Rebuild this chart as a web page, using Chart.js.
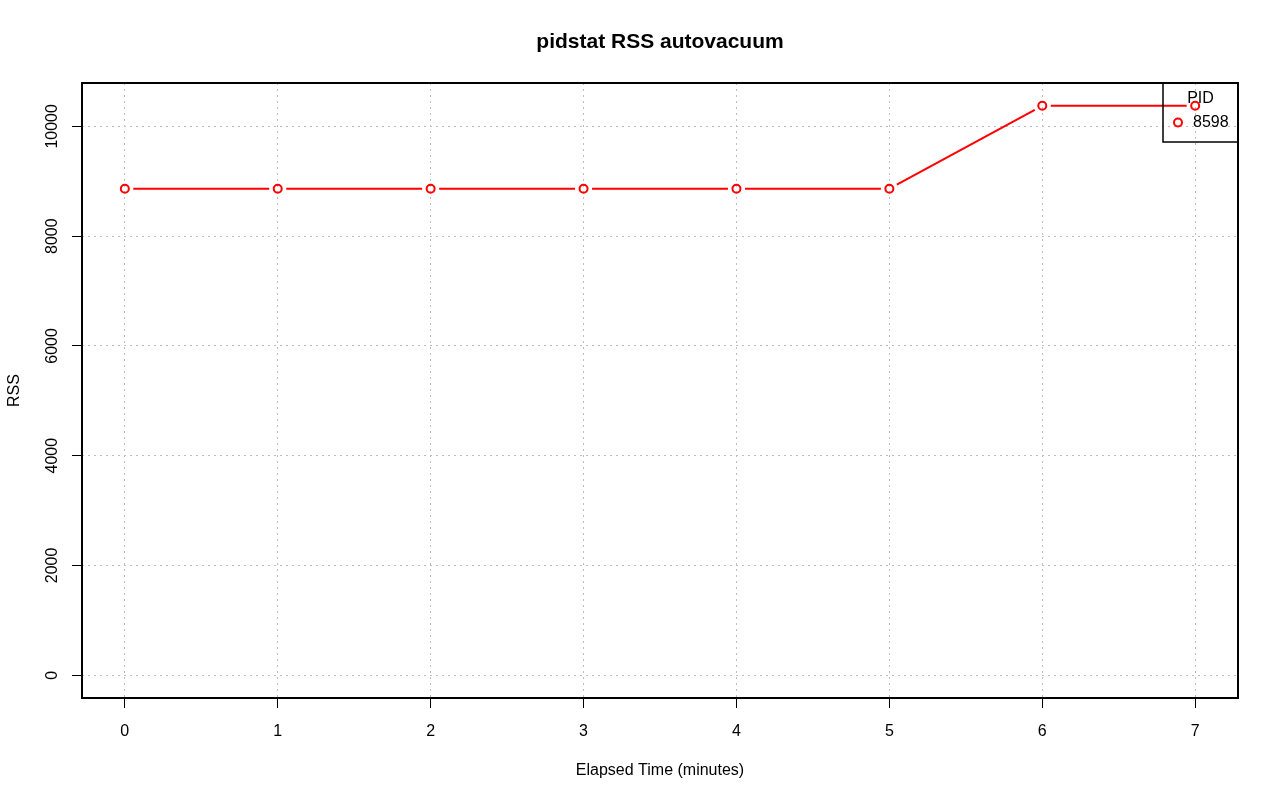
<!DOCTYPE html>
<html>
<head>
<meta charset="utf-8">
<title>pidstat RSS autovacuum</title>
<script src="https://cdn.jsdelivr.net/npm/chart.js@4/dist/chart.umd.min.js"></script>
<style>
  html, body { margin: 0; padding: 0; background: #fff; }
  #wrap { width: 1280px; height: 801px; }
</style>
</head>
<body>
<div id="wrap"><canvas id="grafico" width="1280" height="801"></canvas></div>
<script>
// --- DADOS ---
const minutos = [0, 1, 2, 3, 4, 5, 6, 7];
const rss = [8863, 8863, 8863, 8863, 8863, 8863, 10375, 10375];
const ticksX = [0, 1, 2, 3, 4, 5, 6, 7];
const ticksY = [0, 2000, 4000, 6000, 8000, 10000];
const titulo = 'pidstat RSS autovacuum';
const legendaTitulo = 'PID';
const legendaPid = '8598';

const VERMELHO = '#ff0000';
const GAP = 8.5; // espaço entre linha e ponto (type = "b" do R)
const FONTE = '"Liberation Sans", Arial, Helvetica, sans-serif';

Chart.defaults.font.family = FONTE;
Chart.defaults.color = '#000';

// título, caixa, rótulos do eixo y (girados) e legenda
const extrasPlugin = {
    id: 'extras',
    afterDraw(chart) {
        const ctx = chart.ctx;
        const area = chart.chartArea;
        const y = chart.scales.y;

        ctx.save();
        // título centrado sobre a área do gráfico
        ctx.fillStyle = '#000';
        ctx.font = 'bold 21px ' + FONTE;
        ctx.textAlign = 'center';
        ctx.textBaseline = 'middle';
        ctx.fillText(titulo, (area.left + area.right) / 2, 42);

        ctx.strokeStyle = '#000';
        ctx.lineWidth = 2;
        ctx.strokeRect(area.left, area.top, area.right - area.left, area.bottom - area.top);

        // rótulos do eixo y, de baixo para cima como no R
        ctx.font = '16px ' + FONTE;
        ticksY.forEach(v => {
            ctx.save();
            ctx.translate(53, y.getPixelForValue(v));
            ctx.rotate(-Math.PI / 2);
            ctx.fillText(String(v), 0, 0);
            ctx.restore();
        });

        // legenda
        const lx = 1163, ly = area.top, lw = area.right - 1163, lh = 59;
        ctx.lineWidth = 1.5;
        ctx.strokeRect(lx, ly, lw, lh);
        ctx.textAlign = 'center';
        ctx.fillText(legendaTitulo, lx + lw / 2, ly + 15.5);
        ctx.strokeStyle = VERMELHO;
        ctx.lineWidth = 2;
        ctx.beginPath();
        ctx.arc(1178, ly + 39.5, 4, 0, Math.PI * 2);
        ctx.stroke();
        ctx.textAlign = 'left';
        ctx.fillText(legendaPid, 1193, ly + 40);
        ctx.restore();
    }
};

const gradeComum = {
    color: '#bdbdbd',
    lineWidth: 1,
    drawTicks: true,
    tickLength: 10,
    tickColor: '#000',
    tickWidth: 1,
    tickBorderDash: []
};

new Chart(document.getElementById('grafico'), {
    type: 'line',
    data: {
        datasets: [{
            label: legendaPid,
            data: minutos.map((m, i) => ({ x: m, y: rss[i] })),
            borderColor: VERMELHO,
            borderWidth: 2,
            tension: 0,
            fill: false,
            pointRadius: 4,
            pointBorderWidth: 2,
            pointBorderColor: VERMELHO,
            pointBackgroundColor: 'rgba(0,0,0,0)',
            segment: {
                borderDash: c => {
                    const len = Math.hypot(c.p1.x - c.p0.x, c.p1.y - c.p0.y);
                    return [0, GAP, Math.max(len - 2 * GAP, 0), GAP];
                }
            }
        }]
    },
    options: {
        responsive: false,
        animation: false,
        devicePixelRatio: 1,
        layout: { padding: { left: 0, right: 42, top: 83, bottom: 0 } },
        plugins: {
            legend: { display: false },
            tooltip: { enabled: false },
            title: { display: false }
        },
        scales: {
            x: {
                type: 'linear',
                min: -0.28,
                max: 7.28,
                grid: gradeComum,
                border: { display: false, dash: [2, 4] },
                ticks: {
                    padding: 14,
                    font: { size: 16 },
                    maxRotation: 0
                },
                afterBuildTicks: s => { s.ticks = ticksX.map(v => ({ value: v })); },
                title: {
                    display: true,
                    text: 'Elapsed Time (minutes)',
                    font: { size: 16 },
                    padding: { top: 0, bottom: 21 }
                },
                afterFit: s => { s.height = 103; }
            },
            y: {
                type: 'linear',
                min: -415,
                max: 10790,
                grid: gradeComum,
                border: { display: false, dash: [2, 4] },
                ticks: { display: false },
                afterBuildTicks: s => { s.ticks = ticksY.map(v => ({ value: v })); },
                title: {
                    display: true,
                    text: 'RSS',
                    font: { size: 16 },
                    padding: { top: 5, bottom: 0 }
                },
                afterFit: s => { s.width = 82; }
            }
        }
    },
    plugins: [extrasPlugin]
});
</script>
</body>
</html>
